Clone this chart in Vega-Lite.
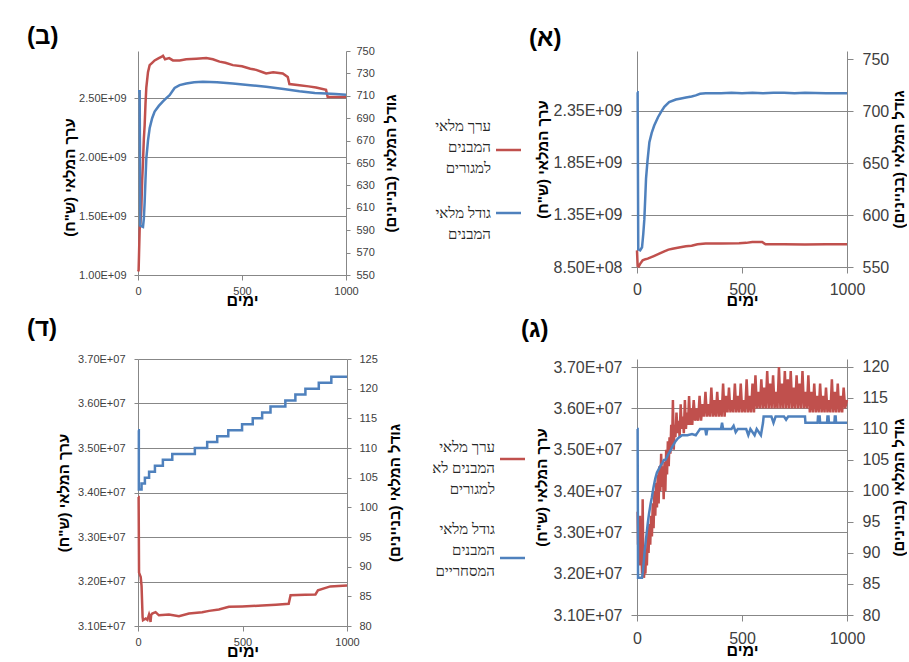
{
  "$schema": "https://vega.github.io/schema/vega-lite/v6.json",
  "background": "white",
  "padding": {"left": 27, "top": 24, "right": 0, "bottom": 0},
  "config": {
    "font": "Liberation Sans",
    "view": {"stroke": null},
    "axis": {
      "labelFont": "Liberation Sans", "titleFont": "Liberation Sans",
      "labelColor": "#404040", "titleColor": "#000000",
      "domainColor": "#878787", "tickColor": "#878787", "gridColor": "#878787",
      "domainWidth": 1, "tickWidth": 1, "gridWidth": 1,
      "titleFontWeight": "bold", "labelOverlap": false, "labelFlush": false, "grid": false
    },
    "title": {"font": "Liberation Sans"}
  },
  "datasets": {
    "a_val": [
      {"day":0,"v":1.01e9},{"day":3,"v":0.86e9},{"day":8,"v":0.855e9},{"day":15,"v":0.88e9},{"day":27,"v":0.914e9},{"day":40,"v":0.925e9},{"day":51,"v":0.93e9},{"day":80,"v":0.955e9},{"day":106,"v":0.978e9},{"day":130,"v":1.0e9},{"day":150,"v":1.017e9},{"day":169,"v":1.026e9},{"day":200,"v":1.038e9},{"day":233,"v":1.049e9},{"day":260,"v":1.055e9},{"day":288,"v":1.068e9},{"day":327,"v":1.075e9},{"day":400,"v":1.075e9},{"day":486,"v":1.078e9},{"day":520,"v":1.082e9},{"day":549,"v":1.09e9},{"day":596,"v":1.09e9},{"day":612,"v":1.068e9},{"day":700,"v":1.068e9},{"day":800,"v":1.067e9},{"day":900,"v":1.068e9},{"day":1000,"v":1.068e9}
    ],
    "a_size": [
      {"day":0,"v":718},{"day":3,"v":718},{"day":6,"v":567},{"day":15,"v":566},{"day":24,"v":569},{"day":30,"v":582},{"day":35,"v":596},{"day":40,"v":620},{"day":43,"v":635},{"day":50,"v":652},{"day":59,"v":670},{"day":70,"v":679},{"day":82,"v":686},{"day":100,"v":694},{"day":114,"v":699},{"day":130,"v":704},{"day":153,"v":708.5},{"day":185,"v":711},{"day":210,"v":712},{"day":233,"v":713},{"day":260,"v":714},{"day":280,"v":715},{"day":300,"v":716.5},{"day":327,"v":717},{"day":400,"v":717},{"day":450,"v":717.5},{"day":500,"v":717},{"day":550,"v":717.5},{"day":600,"v":717},{"day":650,"v":717.5},{"day":700,"v":717.5},{"day":750,"v":717},{"day":800,"v":717.5},{"day":900,"v":717},{"day":1000,"v":717}
    ],
    "b_val": [
      {"day":0,"v":1.03e9},{"day":3,"v":1.04e9},{"day":8,"v":1.39e9},{"day":12,"v":1.45e9},{"day":16,"v":1.56e9},{"day":20,"v":1.8e9},{"day":24,"v":1.96e9},{"day":28,"v":2.15e9},{"day":32,"v":2.27e9},{"day":36,"v":2.45e9},{"day":40,"v":2.59e9},{"day":48,"v":2.72e9},{"day":56,"v":2.78e9},{"day":68,"v":2.8e9},{"day":80,"v":2.82e9},{"day":100,"v":2.84e9},{"day":112,"v":2.85e9},{"day":120,"v":2.86e9},{"day":130,"v":2.83e9},{"day":150,"v":2.84e9},{"day":168,"v":2.82e9},{"day":200,"v":2.82e9},{"day":232,"v":2.83e9},{"day":280,"v":2.835e9},{"day":328,"v":2.84e9},{"day":360,"v":2.83e9},{"day":392,"v":2.81e9},{"day":420,"v":2.8e9},{"day":456,"v":2.78e9},{"day":500,"v":2.77e9},{"day":540,"v":2.75e9},{"day":568,"v":2.74e9},{"day":600,"v":2.72e9},{"day":616,"v":2.71e9},{"day":650,"v":2.72e9},{"day":696,"v":2.71e9},{"day":720,"v":2.68e9},{"day":728,"v":2.62e9},{"day":776,"v":2.61e9},{"day":820,"v":2.6e9},{"day":856,"v":2.59e9},{"day":904,"v":2.57e9},{"day":912,"v":2.51e9},{"day":1000,"v":2.51e9}
    ],
    "b_size": [
      {"day":0,"v":714},{"day":8,"v":714},{"day":11,"v":594},{"day":24,"v":593},{"day":28,"v":600},{"day":32,"v":615},{"day":36,"v":635},{"day":40,"v":654},{"day":48,"v":670},{"day":56,"v":681},{"day":68,"v":690},{"day":80,"v":696},{"day":100,"v":701},{"day":120,"v":705},{"day":136,"v":708},{"day":152,"v":710.6},{"day":165,"v":714},{"day":176,"v":717},{"day":200,"v":719.5},{"day":232,"v":721},{"day":270,"v":722},{"day":312,"v":722.5},{"day":380,"v":722},{"day":456,"v":721},{"day":540,"v":719.5},{"day":616,"v":718},{"day":700,"v":716},{"day":776,"v":714},{"day":850,"v":712.5},{"day":904,"v":712},{"day":950,"v":711.5},{"day":1000,"v":711}
    ],
    "d_val": [
      {"day":0,"v":3.39e7},{"day":3,"v":3.39e7},{"day":5,"v":3.22e7},{"day":13,"v":3.21e7},{"day":17,"v":3.19e7},{"day":22,"v":3.12e7},{"day":24,"v":3.113e7},{"day":37,"v":3.117e7},{"day":45,"v":3.114e7},{"day":53,"v":3.126e7},{"day":57,"v":3.12e7},{"day":60,"v":3.109e7},{"day":63,"v":3.125e7},{"day":68,"v":3.128e7},{"day":84,"v":3.131e7},{"day":100,"v":3.124e7},{"day":148,"v":3.126e7},{"day":196,"v":3.122e7},{"day":244,"v":3.128e7},{"day":307,"v":3.131e7},{"day":340,"v":3.134e7},{"day":387,"v":3.137e7},{"day":435,"v":3.143e7},{"day":498,"v":3.144e7},{"day":594,"v":3.146e7},{"day":660,"v":3.148e7},{"day":721,"v":3.15e7},{"day":730,"v":3.169e7},{"day":800,"v":3.17e7},{"day":849,"v":3.171e7},{"day":861,"v":3.18e7},{"day":920,"v":3.189e7},{"day":1000,"v":3.191e7}
    ],
    "d_size": [
      {"day":0,"v":113},{"day":4,"v":103},{"day":17,"v":104},{"day":33,"v":105},{"day":53,"v":106},{"day":81,"v":107},{"day":119,"v":108},{"day":164,"v":109},{"day":272,"v":110},{"day":331,"v":111},{"day":379,"v":112},{"day":432,"v":113},{"day":498,"v":114},{"day":549,"v":115},{"day":594,"v":116},{"day":634,"v":117},{"day":705,"v":118},{"day":753,"v":119},{"day":801,"v":120},{"day":865,"v":121},{"day":925,"v":122},{"day":1000,"v":122}
    ],
    "g_val": [
      {"day":0,"v":3.35e7},{"day":3,"v":3.35e7},{"day":5,"v":3.27e7},{"day":8,"v":3.30e7},{"day":11,"v":3.22e7},{"day":14,"v":3.34e7},{"day":17,"v":3.24e7},{"day":20,"v":3.28e7},{"day":24,"v":3.20e7},{"day":27,"v":3.38e7},{"day":30,"v":3.22e7},{"day":33,"v":3.19e7},{"day":37,"v":3.22e7},{"day":40,"v":3.20e7},{"day":43,"v":3.26e7},{"day":47,"v":3.22e7},{"day":51,"v":3.30e7},{"day":55,"v":3.25e7},{"day":59,"v":3.32e7},{"day":63,"v":3.27e7},{"day":67,"v":3.34e7},{"day":71,"v":3.29e7},{"day":75,"v":3.37e7},{"day":79,"v":3.31e7},{"day":83,"v":3.40e7},{"day":87,"v":3.34e7},{"day":91,"v":3.42e7},{"day":95,"v":3.36e7},{"day":99,"v":3.44e7},{"day":103,"v":3.37e7},{"day":107,"v":3.46e7},{"day":111,"v":3.40e7},{"day":115,"v":3.49e7},{"day":119,"v":3.41e7},{"day":123,"v":3.46e7},{"day":127,"v":3.38e7},{"day":131,"v":3.47e7},{"day":135,"v":3.40e7},{"day":139,"v":3.50e7},{"day":143,"v":3.44e7},{"day":147,"v":3.52e7},{"day":151,"v":3.46e7},{"day":155,"v":3.53e7},{"day":159,"v":3.49e7},{"day":163,"v":3.56e7},{"day":167,"v":3.51e7},{"day":171,"v":3.62e7},{"day":175,"v":3.50e7},{"day":179,"v":3.56e7},{"day":183,"v":3.53e7},{"day":188,"v":3.59e7},{"day":193,"v":3.54e7},{"day":198,"v":3.57e7},{"day":203,"v":3.53e7},{"day":208,"v":3.61e7},{"day":213,"v":3.55e7},{"day":218,"v":3.58e7},{"day":223,"v":3.54e7},{"day":228,"v":3.62e7},{"day":233,"v":3.55e7},{"day":238,"v":3.59e7},{"day":243,"v":3.56e7},{"day":248,"v":3.63e7},{"day":253,"v":3.56e7},{"day":258,"v":3.60e7},{"day":263,"v":3.56e7},{"day":270,"v":3.62e7},{"day":277,"v":3.57e7},{"day":284,"v":3.60e7},{"day":291,"v":3.57e7},{"day":298,"v":3.63e7},{"day":305,"v":3.57e7},{"day":312,"v":3.61e7},{"day":319,"v":3.58e7},{"day":326,"v":3.64e7},{"day":333,"v":3.58e7},{"day":340,"v":3.61e7},{"day":347,"v":3.58e7},{"day":354,"v":3.65e7},{"day":361,"v":3.58e7},{"day":368,"v":3.62e7},{"day":375,"v":3.58e7},{"day":382,"v":3.64e7},{"day":389,"v":3.58e7},{"day":396,"v":3.62e7},{"day":403,"v":3.58e7},{"day":410,"v":3.66e7},{"day":417,"v":3.58e7},{"day":424,"v":3.63e7},{"day":431,"v":3.59e7},{"day":438,"v":3.65e7},{"day":445,"v":3.59e7},{"day":452,"v":3.62e7},{"day":459,"v":3.59e7},{"day":466,"v":3.66e7},{"day":473,"v":3.59e7},{"day":480,"v":3.63e7},{"day":487,"v":3.59e7},{"day":494,"v":3.66e7},{"day":501,"v":3.59e7},{"day":508,"v":3.62e7},{"day":515,"v":3.59e7},{"day":522,"v":3.67e7},{"day":529,"v":3.59e7},{"day":536,"v":3.63e7},{"day":543,"v":3.59e7},{"day":550,"v":3.66e7},{"day":557,"v":3.59e7},{"day":564,"v":3.68e7},{"day":571,"v":3.60e7},{"day":578,"v":3.64e7},{"day":585,"v":3.60e7},{"day":592,"v":3.67e7},{"day":599,"v":3.60e7},{"day":606,"v":3.65e7},{"day":613,"v":3.60e7},{"day":620,"v":3.69e7},{"day":627,"v":3.60e7},{"day":634,"v":3.66e7},{"day":641,"v":3.60e7},{"day":648,"v":3.68e7},{"day":655,"v":3.60e7},{"day":662,"v":3.64e7},{"day":669,"v":3.60e7},{"day":676,"v":3.70e7},{"day":683,"v":3.60e7},{"day":690,"v":3.66e7},{"day":697,"v":3.60e7},{"day":704,"v":3.69e7},{"day":711,"v":3.60e7},{"day":718,"v":3.67e7},{"day":725,"v":3.60e7},{"day":732,"v":3.69e7},{"day":739,"v":3.60e7},{"day":746,"v":3.65e7},{"day":753,"v":3.60e7},{"day":760,"v":3.68e7},{"day":767,"v":3.60e7},{"day":774,"v":3.66e7},{"day":781,"v":3.60e7},{"day":788,"v":3.69e7},{"day":795,"v":3.60e7},{"day":802,"v":3.64e7},{"day":809,"v":3.60e7},{"day":816,"v":3.68e7},{"day":823,"v":3.59e7},{"day":830,"v":3.64e7},{"day":837,"v":3.59e7},{"day":844,"v":3.66e7},{"day":851,"v":3.59e7},{"day":858,"v":3.63e7},{"day":865,"v":3.59e7},{"day":872,"v":3.66e7},{"day":879,"v":3.59e7},{"day":886,"v":3.63e7},{"day":893,"v":3.59e7},{"day":900,"v":3.65e7},{"day":907,"v":3.59e7},{"day":914,"v":3.62e7},{"day":921,"v":3.59e7},{"day":928,"v":3.67e7},{"day":935,"v":3.59e7},{"day":942,"v":3.64e7},{"day":949,"v":3.59e7},{"day":956,"v":3.66e7},{"day":963,"v":3.59e7},{"day":970,"v":3.63e7},{"day":977,"v":3.59e7},{"day":984,"v":3.65e7},{"day":991,"v":3.60e7},{"day":1000,"v":3.62e7}
    ],
    "g_size": [
      {"day":0,"v":110},{"day":3,"v":110},{"day":5,"v":86},{"day":24,"v":86},{"day":28,"v":87},{"day":32,"v":88.5},{"day":37,"v":90.5},{"day":42,"v":92},{"day":47,"v":93.5},{"day":52,"v":95},{"day":58,"v":96.5},{"day":65,"v":98},{"day":71,"v":99},{"day":78,"v":100.5},{"day":87,"v":102},{"day":95,"v":103},{"day":103,"v":103.5},{"day":111,"v":104},{"day":120,"v":104.5},{"day":128,"v":105},{"day":135,"v":105},{"day":143,"v":105.5},{"day":150,"v":106},{"day":159,"v":106.5},{"day":166,"v":107},{"day":175,"v":107.5},{"day":183,"v":108},{"day":195,"v":108.5},{"day":214,"v":109},{"day":240,"v":109},{"day":262,"v":109.2},{"day":280,"v":109},{"day":290,"v":109.5},{"day":300,"v":110},{"day":325,"v":110},{"day":330,"v":109},{"day":335,"v":110},{"day":400,"v":110},{"day":405,"v":111},{"day":410,"v":110},{"day":450,"v":110},{"day":460,"v":110.5},{"day":470,"v":109.5},{"day":480,"v":110},{"day":520,"v":110},{"day":530,"v":109},{"day":540,"v":110},{"day":560,"v":109},{"day":570,"v":110},{"day":590,"v":109},{"day":595,"v":110},{"day":600,"v":111},{"day":603,"v":112},{"day":640,"v":112},{"day":650,"v":111},{"day":660,"v":112},{"day":700,"v":112},{"day":710,"v":111.5},{"day":720,"v":112},{"day":800,"v":112},{"day":802,"v":111},{"day":860,"v":111},{"day":862,"v":112},{"day":870,"v":112},{"day":872,"v":111},{"day":905,"v":111},{"day":907,"v":112},{"day":912,"v":112},{"day":914,"v":111},{"day":940,"v":111},{"day":942,"v":112},{"day":946,"v":112},{"day":948,"v":111},{"day":1000,"v":111}
    ]
  },
  "resolve": {"scale": {"color": "independent"}, "legend": {"color": "independent"}},
  "spacing": 9,
  "vconcat": [
    {
      "spacing": -11,
      "resolve": {"scale": {"color": "independent"}, "legend": {"color": "independent"}},
      "hconcat": [
        {
          "width": 208, "height": 224,
          "title": {"text": "(ב)", "anchor": "start", "frame": "group", "dx": -111, "offset": -27.5, "fontSize": 24, "fontWeight": "bold", "color": "#000000", "baseline": "bottom"},
          "resolve": {"scale": {"y": "independent"}},
          "layer": [
            {
              "data": {"name": "b_val"},
              "mark": {"type": "line", "color": "#C0504D", "strokeWidth": 2.5},
              "encoding": {
                "x": {"field": "day", "type": "quantitative", "scale": {"domain": [0, 1000], "nice": false},
                      "axis": {"values": [0, 500, 1000], "format": "d", "title": "ימים", "labelFontSize": 11, "tickSize": 5, "labelPadding": 5, "titleFontSize": 16, "titlePadding": -4}},
                "y": {"field": "v", "type": "quantitative", "scale": {"domain": [1000000000, 2900000000], "nice": false, "zero": false},
                      "axis": {"orient": "left", "values": [1000000000, 1500000000, 2000000000, 2500000000], "grid": true,
                               "labelExpr": "format(datum.value / 1e9, '.2f') + 'E+09'", "labelFontSize": 11, "tickSize": 4, "labelPadding": 8,
                               "title": "ערך המלאי (ש\"ח)\u200f", "titleFontSize": 15, "titlePadding": 1, "titleAngle": -90, "titleY": 126}}
              }
            },
            {
              "data": {"name": "b_size"},
              "mark": {"type": "line", "color": "#4F81BD", "strokeWidth": 2.5},
              "encoding": {
                "x": {"field": "day", "type": "quantitative"},
                "y": {"field": "v", "type": "quantitative", "scale": {"domain": [550, 750], "nice": false, "zero": false},
                      "axis": {"orient": "right", "values": [550, 570, 590, 610, 630, 650, 670, 690, 710, 730, 750],
                               "labelFontSize": 11, "tickSize": 4, "labelPadding": 6,
                               "title": "גודל המלאי (בניינים)\u200f", "titleFontSize": 15, "titlePadding": 9, "titleAngle": -90, "titleBaseline": "top"}}
              }
            }
          ]
        },
        {
          "width": 210, "height": 216,
          "title": {"text": "(א)", "anchor": "start", "frame": "group", "dx": -108, "offset": -23.5, "fontSize": 24, "fontWeight": "bold", "color": "#000000", "baseline": "bottom"},
          "resolve": {"scale": {"y": "independent"}},
          "layer": [
            {
              "data": {"name": "a_val"},
              "mark": {"type": "line", "strokeWidth": 2.5},
              "encoding": {
                "x": {"field": "day", "type": "quantitative", "scale": {"domain": [0, 1000], "nice": false},
                      "axis": {"values": [0, 500, 1000], "format": "d", "title": "ימים", "labelFontSize": 16, "tickSize": 6, "labelPadding": 8, "titleFontSize": 16, "titlePadding": -5}},
                "y": {"field": "v", "type": "quantitative", "scale": {"domain": [850000000, 2926900000], "nice": false, "zero": false},
                      "axis": {"orient": "left", "values": [850000000, 1350000000, 1850000000, 2350000000], "grid": true,
                               "labelExpr": "datum.value < 1e9 ? format(datum.value / 1e8, '.2f') + 'E+08' : format(datum.value / 1e9, '.2f') + 'E+09'",
                               "labelFontSize": 16, "tickSize": 6, "labelPadding": 9,
                               "title": "ערך המלאי (ש\"ח)\u200f", "titleFontSize": 15, "titlePadding": 3, "titleAngle": -90}},
                "color": {"datum": "ערך מלאי|המבנים|למגורים", "type": "nominal",
                          "scale": {"domain": ["ערך מלאי|המבנים|למגורים", "גודל מלאי|המבנים"], "range": ["#C0504D", "#4F81BD"]},
                          "legend": {
                            "orient": "left", "offset": 1, "padding": 8, "title": null,
                            "symbolType": "stroke", "symbolSize": 625, "symbolStrokeWidth": 2.5,
                            "labelFont": "Liberation Serif", "labelFontSize": 15, "labelColor": "#262626",
                            "labelAlign": "right", "labelBaseline": "top", "labelLimit": 200, "rowPadding": 0,
                            "labelExpr": "split(datum.label, '|')",
                            "encode": {
                              "labels": {"update": {"x": {"value": 95}, "y": {"signal": "datum.index === 0 ? 60 : 30"}, "lineHeight": {"value": 21}}},
                              "symbols": {"update": {"x": {"value": 112.5}, "y": {"signal": "datum.index === 0 ? 91 : 37"}}}
                            }
                          }}
              }
            },
            {
              "data": {"name": "a_size"},
              "mark": {"type": "line", "strokeWidth": 2.5},
              "encoding": {
                "x": {"field": "day", "type": "quantitative"},
                "y": {"field": "v", "type": "quantitative", "scale": {"domain": [550, 757.7], "nice": false, "zero": false},
                      "axis": {"orient": "right", "values": [550, 600, 650, 700, 750],
                               "labelFontSize": 16, "tickSize": 6, "labelPadding": 9,
                               "title": "גודל המלאי (בניינים)\u200f", "titleFontSize": 15, "titlePadding": 3, "titleAngle": -90, "titleBaseline": "top"}},
                "color": {"datum": "גודל מלאי|המבנים", "type": "nominal"}
              }
            }
          ]
        }
      ]
    },
    {
      "spacing": -11,
      "resolve": {"scale": {"color": "independent"}, "legend": {"color": "independent"}},
      "hconcat": [
        {
          "width": 209, "height": 267,
          "title": {"text": "(ד)", "anchor": "start", "frame": "group", "dx": -111, "offset": -12, "fontSize": 24, "fontWeight": "bold", "color": "#000000", "baseline": "bottom"},
          "resolve": {"scale": {"y": "independent"}},
          "layer": [
            {
              "data": {"name": "d_val"},
              "mark": {"type": "line", "color": "#C0504D", "strokeWidth": 2.5},
              "encoding": {
                "x": {"field": "day", "type": "quantitative", "scale": {"domain": [0, 1000], "nice": false},
                      "axis": {"values": [0, 500, 1000], "format": "d", "title": "ימים", "labelFontSize": 11, "tickSize": 5, "labelPadding": 5, "titleFontSize": 16, "titlePadding": -4}},
                "y": {"field": "v", "type": "quantitative", "scale": {"domain": [31000000, 37000000], "nice": false, "zero": false},
                      "axis": {"orient": "left", "values": [31000000, 32000000, 33000000, 34000000, 35000000, 36000000, 37000000], "grid": true,
                               "labelExpr": "format(datum.value / 1e7, '.2f') + 'E+07'", "labelFontSize": 11, "tickSize": 4, "labelPadding": 9,
                               "title": "ערך המלאי (ש\"ח)\u200f", "titleFontSize": 15, "titlePadding": 6, "titleAngle": -90}}
              }
            },
            {
              "data": {"name": "d_size"},
              "mark": {"type": "line", "color": "#4F81BD", "strokeWidth": 2.5, "interpolate": "step-after"},
              "encoding": {
                "x": {"field": "day", "type": "quantitative"},
                "y": {"field": "v", "type": "quantitative", "scale": {"domain": [80, 125], "nice": false, "zero": false},
                      "axis": {"orient": "right", "values": [80, 85, 90, 95, 100, 105, 110, 115, 120, 125],
                               "labelFontSize": 11, "tickSize": 4, "labelPadding": 8,
                               "title": "גודל המלאי (בניינים)\u200f", "titleFontSize": 15, "titlePadding": 10, "titleAngle": -90, "titleBaseline": "top"}}
              }
            }
          ]
        },
        {
          "width": 210, "height": 256,
          "title": {"text": "(ג)", "anchor": "start", "frame": "group", "dx": -116, "offset": -7, "fontSize": 24, "fontWeight": "bold", "color": "#000000", "baseline": "bottom"},
          "resolve": {"scale": {"y": "independent"}},
          "layer": [
            {
              "data": {"name": "g_val"},
              "mark": {"type": "line", "strokeWidth": 2.5},
              "encoding": {
                "x": {"field": "day", "type": "quantitative", "scale": {"domain": [0, 1000], "nice": false},
                      "axis": {"values": [0, 500, 1000], "format": "d", "title": "ימים", "labelFontSize": 16, "tickSize": 6, "labelPadding": 9, "titleFontSize": 16, "titlePadding": -4}},
                "y": {"field": "v", "type": "quantitative", "scale": {"domain": [31000000, 37193548], "nice": false, "zero": false},
                      "axis": {"orient": "left", "values": [31000000, 32000000, 33000000, 34000000, 35000000, 36000000, 37000000], "grid": true,
                               "labelExpr": "format(datum.value / 1e7, '.2f') + 'E+07'", "labelFontSize": 16, "tickSize": 6, "labelPadding": 9,
                               "title": "ערך המלאי (ש\"ח)\u200f", "titleFontSize": 15, "titlePadding": 4, "titleAngle": -90}},
                "color": {"datum": "ערך מלאי|המבנים לא|למגורים", "type": "nominal",
                          "scale": {"domain": ["ערך מלאי|המבנים לא|למגורים", "גודל מלאי|המבנים|המסחריים"], "range": ["#C0504D", "#4F81BD"]},
                          "legend": {
                            "orient": "left", "offset": -4, "padding": 8, "title": null,
                            "symbolType": "stroke", "symbolSize": 625, "symbolStrokeWidth": 2.5,
                            "labelFont": "Liberation Serif", "labelFontSize": 15, "labelColor": "#262626",
                            "labelAlign": "right", "labelBaseline": "top", "labelLimit": 200, "rowPadding": 0,
                            "labelExpr": "split(datum.label, '|')",
                            "encode": {
                              "labels": {"update": {"x": {"value": 95}, "y": {"signal": "datum.index === 0 ? 73 : 25"}, "lineHeight": {"value": 21}}},
                              "symbols": {"update": {"x": {"value": 112.5}, "y": {"signal": "datum.index === 0 ? 92 : 61"}}}
                            }
                          }}
              }
            },
            {
              "data": {"name": "g_size"},
              "mark": {"type": "line", "strokeWidth": 2.5},
              "encoding": {
                "x": {"field": "day", "type": "quantitative"},
                "y": {"field": "v", "type": "quantitative", "scale": {"domain": [80, 121.29], "nice": false, "zero": false},
                      "axis": {"orient": "right", "values": [80, 85, 90, 95, 100, 105, 110, 115, 120],
                               "labelFontSize": 16, "tickSize": 6, "labelPadding": 9,
                               "title": "גודל המלאי (בניינים)\u200f", "titleFontSize": 15, "titlePadding": 3, "titleAngle": -90, "titleBaseline": "top"}},
                "color": {"datum": "גודל מלאי|המבנים|המסחריים", "type": "nominal"}
              }
            }
          ]
        }
      ]
    }
  ]
}
